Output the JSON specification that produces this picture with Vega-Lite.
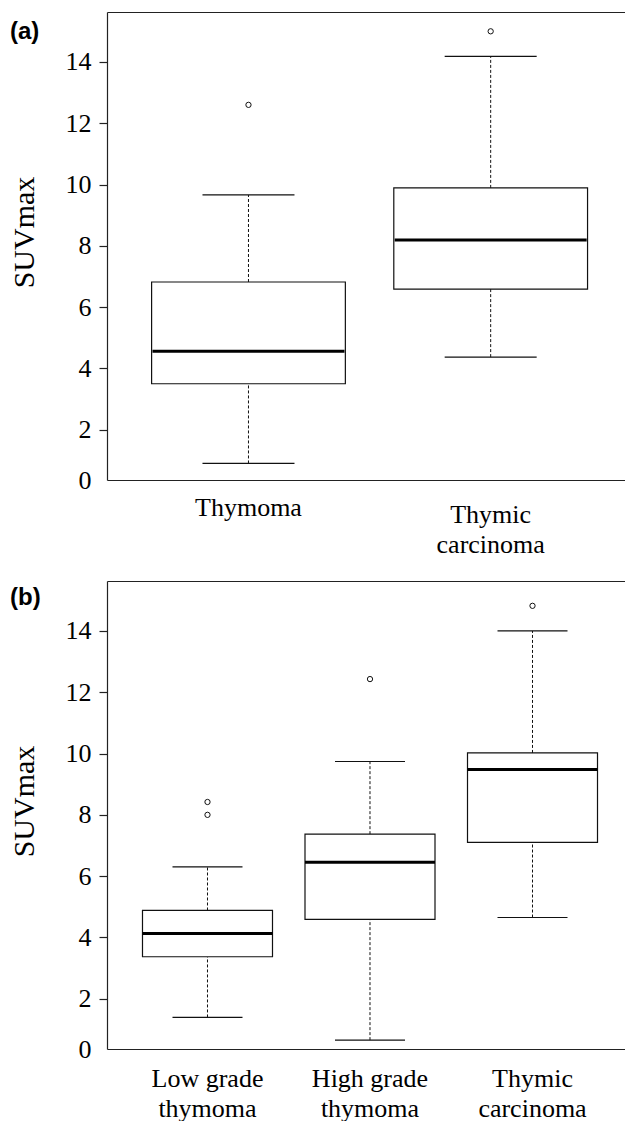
{
  "$schema": "https://vega.github.io/schema/vega-lite/v6.json",
  "background": "white",
  "padding": {"left": 9, "top": 12, "right": 0, "bottom": 0},
  "spacing": 24,
  "config": {
    "view": {"stroke": null},
    "axis": {
      "labelFont": "Liberation Serif", "labelFontSize": 26, "labelColor": "#000",
      "titleFont": "Liberation Serif", "titleFontSize": 30, "titleFontWeight": "normal", "titleColor": "#000",
      "domainColor": "#222", "tickColor": "#222", "domainWidth": 1.2, "tickWidth": 1.2, "grid": false
    },
    "title": {"font": "Liberation Sans", "fontWeight": "bold", "fontSize": 24, "color": "#000"}
  },
  "datasets": {
    "boxesA": [
      {"group": "Thymoma", "lower": 0.9, "q1": 3.5, "median": 4.56, "q3": 6.82, "upper": 9.66},
      {"group": "Thymic carcinoma", "lower": 4.37, "q1": 6.59, "median": 8.19, "q3": 9.89, "upper": 14.18}
    ],
    "outA": [
      {"group": "Thymoma", "value": 12.6},
      {"group": "Thymic carcinoma", "value": 15.0}
    ],
    "boxesB": [
      {"group": "Low grade thymoma", "lower": 1.39, "q1": 3.37, "median": 4.13, "q3": 4.88, "upper": 6.3},
      {"group": "High grade thymoma", "lower": 0.65, "q1": 4.59, "median": 6.45, "q3": 7.37, "upper": 9.74},
      {"group": "Thymic carcinoma", "lower": 4.65, "q1": 7.1, "median": 9.48, "q3": 10.02, "upper": 14.0}
    ],
    "outB": [
      {"group": "Low grade thymoma", "value": 8.0},
      {"group": "Low grade thymoma", "value": 8.42},
      {"group": "High grade thymoma", "value": 12.43},
      {"group": "Thymic carcinoma", "value": 14.82}
    ]
  },
  "vconcat": [
    {
      "width": 518,
      "height": 468,
      "title": {"text": "(a)", "anchor": "start", "frame": "bounds", "baseline": "top", "offset": -32, "dx": 1},
      "resolve": {"axis": {"x": "independent"}},
      "layer": [
        {
          "data": {"name": "boxesA"},
          "mark": {"type": "rule", "strokeDash": [3, 2], "color": "#111", "strokeWidth": 1},
          "encoding": {
            "x": {"field": "group", "type": "nominal", "sort": ["Thymoma", "Thymic carcinoma"],
                  "scale": {"paddingInner": 0.2, "paddingOuter": 0.1694, "align": 0.5436},
                  "axis": {"orient": "bottom", "title": null, "ticks": false, "tickSize": 0, "labelAngle": 0,
                           "labelBaseline": "alphabetic", "labelLineHeight": 30,
                           "labelPadding": {"condition": {"test": "datum.value == 'Thymoma'", "value": 35}, "value": 42},
                           "labelOverlap": false, "labelFlush": false, "labelBound": false, "labelLimit": 0,
                           "labelExpr": "indexof(datum.label, ' ') < 0 ? datum.label : [substring(datum.label, 0, lastindexof(datum.label, ' ')), substring(datum.label, lastindexof(datum.label, ' ') + 1)]"}},
            "y": {"field": "lower", "type": "quantitative",
                  "scale": {"domain": [0.36, 15.63], "nice": false, "zero": false},
                  "axis": {"title": "SUVmax", "values": [0.36, 2, 4, 6, 8, 10, 12, 14],
                           "labelExpr": "datum.value < 1 ? '0' : datum.label",
                           "tickOpacity": {"condition": {"test": "datum.value < 1", "value": 0}, "value": 1},
                           "tickSize": 8, "labelPadding": 8, "titlePadding": 26, "titleY": 220,
                           "labelOverlap": false, "labelFlush": false, "labelBound": false}},
            "y2": {"field": "q1"}
          }
        },
        {
          "data": {"name": "boxesA"},
          "mark": {"type": "rule", "strokeDash": [3, 2], "color": "#111", "strokeWidth": 1},
          "encoding": {
            "x": {"field": "group", "type": "nominal", "sort": ["Thymoma", "Thymic carcinoma"], "axis": null},
            "y": {"field": "q3", "type": "quantitative", "axis": {"title": "SUVmax", "values": [0.36, 2, 4, 6, 8, 10, 12, 14],
                           "labelExpr": "datum.value < 1 ? '0' : datum.label",
                           "tickOpacity": {"condition": {"test": "datum.value < 1", "value": 0}, "value": 1},
                           "tickSize": 8, "labelPadding": 8, "titlePadding": 26, "titleY": 220,
                           "labelOverlap": false, "labelFlush": false, "labelBound": false}},
            "y2": {"field": "upper"}
          }
        },
        {
          "data": {"name": "boxesA"},
          "mark": {"type": "bar", "fill": "white", "stroke": "#111", "strokeWidth": 1.2},
          "encoding": {
            "x": {"field": "group", "type": "nominal", "sort": ["Thymoma", "Thymic carcinoma"],
                  "axis": {"orient": "top", "title": null, "labels": false, "ticks": false, "domain": true}},
            "y": {"field": "q1", "type": "quantitative", "axis": {"title": "SUVmax", "values": [0.36, 2, 4, 6, 8, 10, 12, 14],
                           "labelExpr": "datum.value < 1 ? '0' : datum.label",
                           "tickOpacity": {"condition": {"test": "datum.value < 1", "value": 0}, "value": 1},
                           "tickSize": 8, "labelPadding": 8, "titlePadding": 26, "titleY": 220,
                           "labelOverlap": false, "labelFlush": false, "labelBound": false}},
            "y2": {"field": "q3"}
          }
        },
        {
          "data": {"name": "boxesA"},
          "mark": {"type": "tick", "color": "#000", "thickness": 3, "size": 192, "opacity": 1},
          "encoding": {
            "x": {"field": "group", "type": "nominal", "sort": ["Thymoma", "Thymic carcinoma"], "axis": null},
            "y": {"field": "median", "type": "quantitative", "axis": {"title": "SUVmax", "values": [0.36, 2, 4, 6, 8, 10, 12, 14],
                           "labelExpr": "datum.value < 1 ? '0' : datum.label",
                           "tickOpacity": {"condition": {"test": "datum.value < 1", "value": 0}, "value": 1},
                           "tickSize": 8, "labelPadding": 8, "titlePadding": 26, "titleY": 220,
                           "labelOverlap": false, "labelFlush": false, "labelBound": false}}
          }
        },
        {
          "data": {"name": "boxesA"},
          "mark": {"type": "tick", "color": "#111", "thickness": 1.2, "size": 92, "opacity": 1},
          "encoding": {
            "x": {"field": "group", "type": "nominal", "sort": ["Thymoma", "Thymic carcinoma"], "axis": null},
            "y": {"field": "upper", "type": "quantitative", "axis": {"title": "SUVmax", "values": [0.36, 2, 4, 6, 8, 10, 12, 14],
                           "labelExpr": "datum.value < 1 ? '0' : datum.label",
                           "tickOpacity": {"condition": {"test": "datum.value < 1", "value": 0}, "value": 1},
                           "tickSize": 8, "labelPadding": 8, "titlePadding": 26, "titleY": 220,
                           "labelOverlap": false, "labelFlush": false, "labelBound": false}}
          }
        },
        {
          "data": {"name": "boxesA"},
          "mark": {"type": "tick", "color": "#111", "thickness": 1.2, "size": 92, "opacity": 1},
          "encoding": {
            "x": {"field": "group", "type": "nominal", "sort": ["Thymoma", "Thymic carcinoma"], "axis": null},
            "y": {"field": "lower", "type": "quantitative", "axis": {"title": "SUVmax", "values": [0.36, 2, 4, 6, 8, 10, 12, 14],
                           "labelExpr": "datum.value < 1 ? '0' : datum.label",
                           "tickOpacity": {"condition": {"test": "datum.value < 1", "value": 0}, "value": 1},
                           "tickSize": 8, "labelPadding": 8, "titlePadding": 26, "titleY": 220,
                           "labelOverlap": false, "labelFlush": false, "labelBound": false}}
          }
        },
        {
          "data": {"name": "outA"},
          "mark": {"type": "point", "shape": "circle", "filled": false, "color": "#111", "size": 28, "strokeWidth": 1, "opacity": 1},
          "encoding": {
            "x": {"field": "group", "type": "nominal", "sort": ["Thymoma", "Thymic carcinoma"], "axis": null},
            "y": {"field": "value", "type": "quantitative", "axis": {"title": "SUVmax", "values": [0.36, 2, 4, 6, 8, 10, 12, 14],
                           "labelExpr": "datum.value < 1 ? '0' : datum.label",
                           "tickOpacity": {"condition": {"test": "datum.value < 1", "value": 0}, "value": 1},
                           "tickSize": 8, "labelPadding": 8, "titlePadding": 26, "titleY": 220,
                           "labelOverlap": false, "labelFlush": false, "labelBound": false}}
          }
        }
      ]
    },
    {
      "width": 518,
      "height": 468,
      "title": {"text": "(b)", "anchor": "start", "frame": "bounds", "baseline": "top", "offset": -29, "dx": 1},
      "resolve": {"axis": {"x": "independent"}},
      "layer": [
        {
          "data": {"name": "boxesB"},
          "mark": {"type": "rule", "strokeDash": [3, 2], "color": "#111", "strokeWidth": 1},
          "encoding": {
            "x": {"field": "group", "type": "nominal", "sort": ["Low grade thymoma", "High grade thymoma", "Thymic carcinoma"],
                  "scale": {"paddingInner": 0.2, "paddingOuter": 0.1938, "align": 0.5635},
                  "axis": {"orient": "bottom", "title": null, "ticks": false, "tickSize": 0, "labelAngle": 0,
                           "labelBaseline": "alphabetic", "labelLineHeight": 30, "labelPadding": 37,
                           "labelOverlap": false, "labelFlush": false, "labelBound": false, "labelLimit": 0,
                           "labelExpr": "indexof(datum.label, ' ') < 0 ? datum.label : [substring(datum.label, 0, lastindexof(datum.label, ' ')), substring(datum.label, lastindexof(datum.label, ' ') + 1)]"}},
            "y": {"field": "lower", "type": "quantitative",
                  "scale": {"domain": [0.36, 15.63], "nice": false, "zero": false},
                  "axis": {"title": "SUVmax", "values": [0.36, 2, 4, 6, 8, 10, 12, 14],
                           "labelExpr": "datum.value < 1 ? '0' : datum.label",
                           "tickOpacity": {"condition": {"test": "datum.value < 1", "value": 0}, "value": 1},
                           "tickSize": 8, "labelPadding": 8, "titlePadding": 26, "titleY": 220,
                           "labelOverlap": false, "labelFlush": false, "labelBound": false}},
            "y2": {"field": "q1"}
          }
        },
        {
          "data": {"name": "boxesB"},
          "mark": {"type": "rule", "strokeDash": [3, 2], "color": "#111", "strokeWidth": 1},
          "encoding": {
            "x": {"field": "group", "type": "nominal", "sort": ["Low grade thymoma", "High grade thymoma", "Thymic carcinoma"], "axis": null},
            "y": {"field": "q3", "type": "quantitative", "axis": {"title": "SUVmax", "values": [0.36, 2, 4, 6, 8, 10, 12, 14],
                           "labelExpr": "datum.value < 1 ? '0' : datum.label",
                           "tickOpacity": {"condition": {"test": "datum.value < 1", "value": 0}, "value": 1},
                           "tickSize": 8, "labelPadding": 8, "titlePadding": 26, "titleY": 220,
                           "labelOverlap": false, "labelFlush": false, "labelBound": false}},
            "y2": {"field": "upper"}
          }
        },
        {
          "data": {"name": "boxesB"},
          "mark": {"type": "bar", "fill": "white", "stroke": "#111", "strokeWidth": 1.2},
          "encoding": {
            "x": {"field": "group", "type": "nominal", "sort": ["Low grade thymoma", "High grade thymoma", "Thymic carcinoma"],
                  "axis": {"orient": "top", "title": null, "labels": false, "ticks": false, "domain": true}},
            "y": {"field": "q1", "type": "quantitative", "axis": {"title": "SUVmax", "values": [0.36, 2, 4, 6, 8, 10, 12, 14],
                           "labelExpr": "datum.value < 1 ? '0' : datum.label",
                           "tickOpacity": {"condition": {"test": "datum.value < 1", "value": 0}, "value": 1},
                           "tickSize": 8, "labelPadding": 8, "titlePadding": 26, "titleY": 220,
                           "labelOverlap": false, "labelFlush": false, "labelBound": false}},
            "y2": {"field": "q3"}
          }
        },
        {
          "data": {"name": "boxesB"},
          "mark": {"type": "tick", "color": "#000", "thickness": 3, "size": 130, "opacity": 1},
          "encoding": {
            "x": {"field": "group", "type": "nominal", "sort": ["Low grade thymoma", "High grade thymoma", "Thymic carcinoma"], "axis": null},
            "y": {"field": "median", "type": "quantitative", "axis": {"title": "SUVmax", "values": [0.36, 2, 4, 6, 8, 10, 12, 14],
                           "labelExpr": "datum.value < 1 ? '0' : datum.label",
                           "tickOpacity": {"condition": {"test": "datum.value < 1", "value": 0}, "value": 1},
                           "tickSize": 8, "labelPadding": 8, "titlePadding": 26, "titleY": 220,
                           "labelOverlap": false, "labelFlush": false, "labelBound": false}}
          }
        },
        {
          "data": {"name": "boxesB"},
          "mark": {"type": "tick", "color": "#111", "thickness": 1.2, "size": 70, "opacity": 1},
          "encoding": {
            "x": {"field": "group", "type": "nominal", "sort": ["Low grade thymoma", "High grade thymoma", "Thymic carcinoma"], "axis": null},
            "y": {"field": "upper", "type": "quantitative", "axis": {"title": "SUVmax", "values": [0.36, 2, 4, 6, 8, 10, 12, 14],
                           "labelExpr": "datum.value < 1 ? '0' : datum.label",
                           "tickOpacity": {"condition": {"test": "datum.value < 1", "value": 0}, "value": 1},
                           "tickSize": 8, "labelPadding": 8, "titlePadding": 26, "titleY": 220,
                           "labelOverlap": false, "labelFlush": false, "labelBound": false}}
          }
        },
        {
          "data": {"name": "boxesB"},
          "mark": {"type": "tick", "color": "#111", "thickness": 1.2, "size": 70, "opacity": 1},
          "encoding": {
            "x": {"field": "group", "type": "nominal", "sort": ["Low grade thymoma", "High grade thymoma", "Thymic carcinoma"], "axis": null},
            "y": {"field": "lower", "type": "quantitative", "axis": {"title": "SUVmax", "values": [0.36, 2, 4, 6, 8, 10, 12, 14],
                           "labelExpr": "datum.value < 1 ? '0' : datum.label",
                           "tickOpacity": {"condition": {"test": "datum.value < 1", "value": 0}, "value": 1},
                           "tickSize": 8, "labelPadding": 8, "titlePadding": 26, "titleY": 220,
                           "labelOverlap": false, "labelFlush": false, "labelBound": false}}
          }
        },
        {
          "data": {"name": "outB"},
          "mark": {"type": "point", "shape": "circle", "filled": false, "color": "#111", "size": 28, "strokeWidth": 1, "opacity": 1},
          "encoding": {
            "x": {"field": "group", "type": "nominal", "sort": ["Low grade thymoma", "High grade thymoma", "Thymic carcinoma"], "axis": null},
            "y": {"field": "value", "type": "quantitative", "axis": {"title": "SUVmax", "values": [0.36, 2, 4, 6, 8, 10, 12, 14],
                           "labelExpr": "datum.value < 1 ? '0' : datum.label",
                           "tickOpacity": {"condition": {"test": "datum.value < 1", "value": 0}, "value": 1},
                           "tickSize": 8, "labelPadding": 8, "titlePadding": 26, "titleY": 220,
                           "labelOverlap": false, "labelFlush": false, "labelBound": false}}
          }
        }
      ]
    }
  ]
}
